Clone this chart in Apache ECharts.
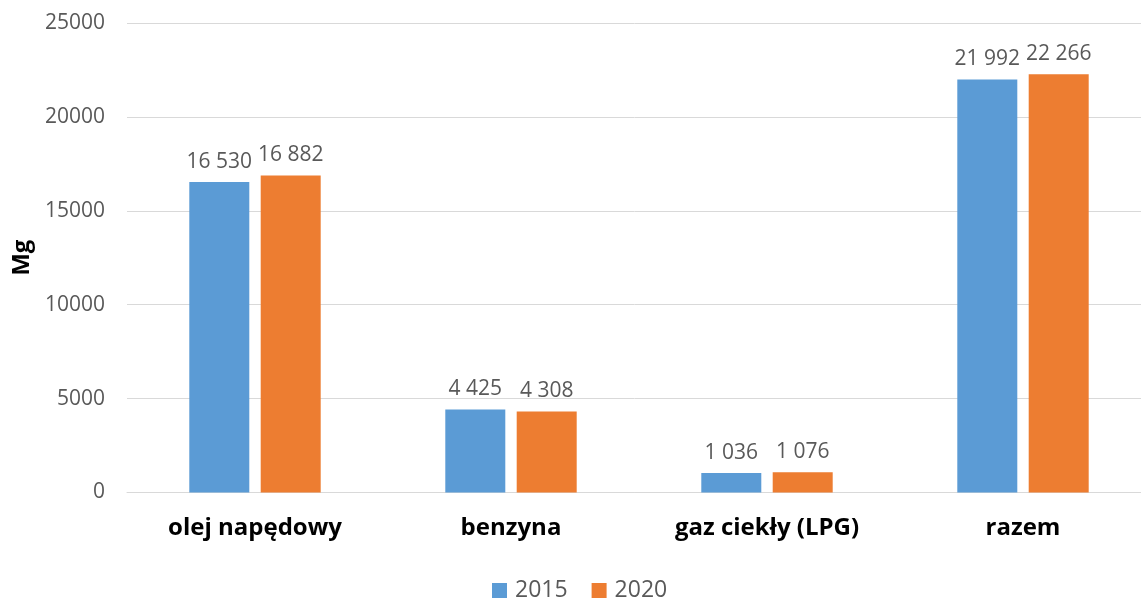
<!DOCTYPE html>
<html>
<head>
<meta charset="utf-8">
<script src="https://cdn.jsdelivr.net/npm/echarts@6/dist/echarts.min.js"></script>
<style>html,body{margin:0;padding:0;background:#fff}#c{width:1141px;height:598px}</style>
</head>
<body>
<div id="c"></div>
<script>
const categories = ['olej napędowy', 'benzyna', 'gaz ciekły (LPG)', 'razem'];
const seriesNames = ['2015', '2020'];
const values2015 = [16530, 4425, 1036, 21992];
const values2020 = [16882, 4308, 1076, 22266];
const yTicks = { min: 0, max: 25000, interval: 5000 };

const fmt = v => String(v).replace(/\B(?=(\d{3})+(?!\d))/g, ' ');
const FONT = '"Open Sans", sans-serif';
const chart = echarts.init(document.getElementById('c'));
const label = {
  show: true, position: 'top', distance: 10,
  formatter: p => fmt(p.value), color: '#595959', fontSize: 21, fontFamily: FONT
};
chart.setOption({
  animation: false,
  grid: { left: 127, width: 1024, top: 23, bottom: 105.5, outerBoundsMode: 'none', containLabel: false },
  legend: {
    top: 574, left: 487, itemWidth: 15, itemHeight: 15, itemGap: 24,
    icon: 'rect',
    textStyle: { color: '#595959', fontSize: 23, fontFamily: FONT, padding: [0, 0, 0, 3] },
    data: seriesNames
  },
  xAxis: {
    type: 'category', data: categories,
    axisLine: { show: true, lineStyle: { color: '#D9D9D9' } },
    axisTick: { show: false },
    axisLabel: { color: '#000', fontWeight: 'bold', fontSize: 24, fontFamily: FONT, margin: 24 }
  },
  yAxis: {
    type: 'value', min: yTicks.min, max: yTicks.max, interval: yTicks.interval,
    name: 'Mg', nameLocation: 'middle', nameGap: 92, nameRotate: 90,
    nameTextStyle: { color: '#000', fontWeight: 'bold', fontSize: 24, fontFamily: FONT },
    axisLine: { show: false }, axisTick: { show: false },
    axisLabel: { color: '#595959', fontSize: 21, fontFamily: FONT, margin: 22, formatter: v => String(v) },
    splitLine: { lineStyle: { color: '#D9D9D9' } }
  },
  series: [
    { name: seriesNames[0], type: 'bar', data: values2015, barWidth: 60, barGap: '19%',
      itemStyle: { color: '#5B9BD5' }, label },
    { name: seriesNames[1], type: 'bar', data: values2020, barWidth: 60, barGap: '19%',
      itemStyle: { color: '#ED7D31' }, label }
  ]
});
</script>
</body>
</html>
